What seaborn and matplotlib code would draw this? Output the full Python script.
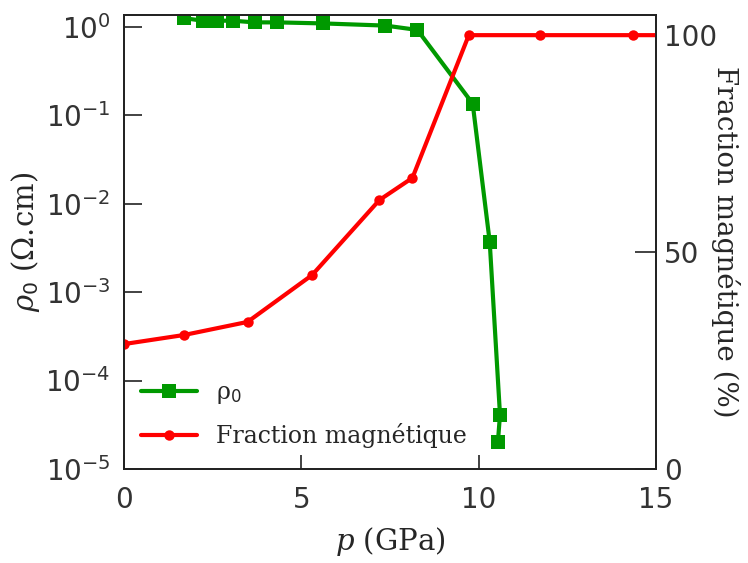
import numpy as np
import pandas as pd
import matplotlib
matplotlib.use('Agg')
import matplotlib.pyplot as plt
from matplotlib.ticker import NullLocator, FixedLocator
import seaborn as sns

# Resistivity rho0 vs pressure (green squares, left log axis)
p_rho = [1.70, 2.21, 2.63, 3.06, 3.68, 4.31, 5.61, 7.37, 8.27, 9.83, 10.31, 10.60, 10.54]
rho0 = [1.25, 1.17, 1.17, 1.17, 1.12, 1.12, 1.09, 1.03, 0.92, 0.135, 0.0037, 4.1e-5, 2.0e-5]

# Magnetic fraction vs pressure (red circles, right axis)
p_frac = [0.0, 1.70, 3.48, 5.30, 7.20, 8.13, 9.72, 11.73, 14.36, 17.0]
fraction = [28.8, 30.9, 33.9, 44.7, 62.0, 67.1, 100, 100, 100, 100]

rho_df = pd.DataFrame({'p': p_rho, 'rho': rho0})
frac_df = pd.DataFrame({'p': p_frac, 'frac': fraction})

sns.set_style('ticks')
plt.rcParams['font.family'] = ['DejaVu Sans']
plt.rcParams['mathtext.fontset'] = 'custom'
plt.rcParams['mathtext.rm'] = 'DejaVu Sans'
plt.rcParams['mathtext.it'] = 'DejaVu Serif:italic'
plt.rcParams['xtick.direction'] = 'in'
plt.rcParams['ytick.direction'] = 'in'

green = '#009900'
red = '#ff0000'
serif = ['DejaVu Serif']

fig = plt.figure(figsize=(7.48, 5.63), dpi=100)
ax = fig.add_axes([0.166, 0.167, 0.711, 0.806])
ax2 = ax.twinx()

sns.lineplot(data=rho_df, x='p', y='rho', ax=ax, sort=False, estimator=None,
             color=green, lw=3, marker='s', markersize=10, markeredgewidth=0,
             label='ρ$_0$', legend=False)
sns.lineplot(data=frac_df, x='p', y='frac', ax=ax2, sort=False, estimator=None,
             color=red, lw=3, marker='o', markersize=7.5, markeredgewidth=0,
             label='Fraction magnétique', legend=False)

ax.set_yscale('log')
ax.set_xlim(0, 15)
ax.set_ylim(1e-5, 1.35)
ax2.set_ylim(0, 104.6)

ax.xaxis.set_major_locator(FixedLocator([0, 5, 10, 15]))
ax.yaxis.set_major_locator(FixedLocator([1e-5, 1e-4, 1e-3, 1e-2, 1e-1, 1e0]))
ax.yaxis.set_minor_locator(NullLocator())
ax2.yaxis.set_major_locator(FixedLocator([0, 50, 100]))

tick_col = '#333333'
ax.tick_params(axis='x', which='major', length=10, width=1.2, labelsize=20,
               pad=12, colors='#222222', labelcolor=tick_col, top=False)
ax.tick_params(axis='y', which='major', length=13, width=1.2, labelsize=20,
               pad=10, colors='#222222', labelcolor=tick_col, right=False)
ax2.tick_params(axis='y', which='major', length=15, width=1.2, labelsize=20,
                pad=6, colors='#222222', labelcolor=tick_col)

for a in (ax, ax2):
    for s in a.spines.values():
        s.set_visible(True)
        s.set_linewidth(1.3)
        s.set_color('#222222')

ax.set_xlabel('$p$ (GPa)', fontsize=21, family=serif, labelpad=8)
ax.set_ylabel('$\\rho_0$ (Ω.cm)', fontsize=21, family=serif, labelpad=2)
ax2.set_ylabel('Fraction magnétique (%)', fontsize=20, family=serif,
               rotation=270, labelpad=16)

h1, l1 = ax.get_legend_handles_labels()
h2, l2 = ax2.get_legend_handles_labels()
ax2.legend(h1 + h2, l1 + l2, loc='lower left', frameon=False,
           prop={'family': serif, 'size': 17}, handlelength=2.4,
           bbox_to_anchor=(0.0, 0.01), borderaxespad=0.3, labelspacing=0.7)

fig.savefig('out.png', dpi=100)
